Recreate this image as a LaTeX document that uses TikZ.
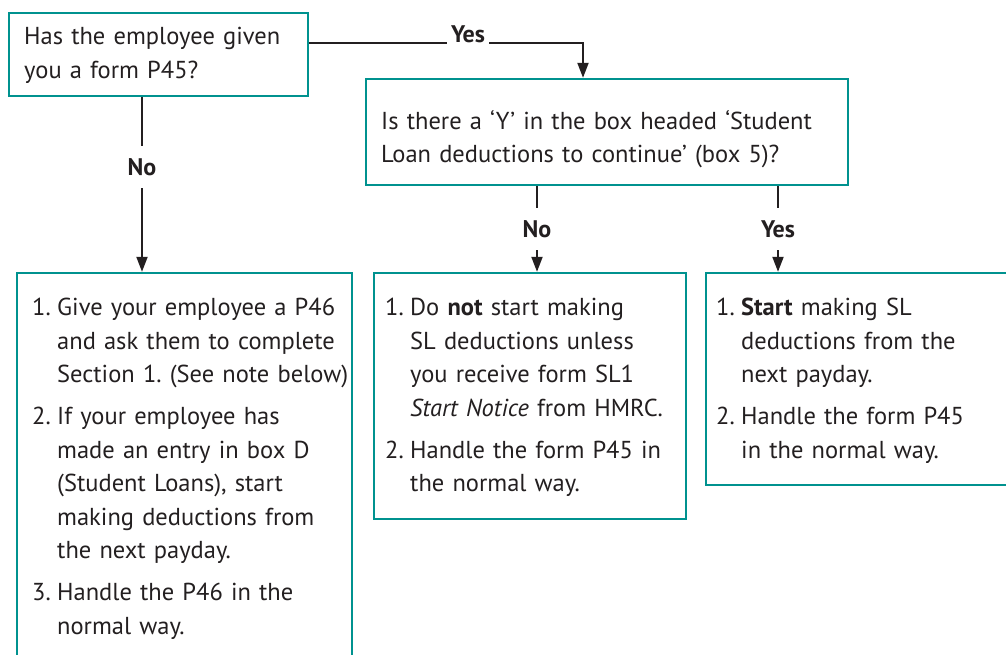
\documentclass[tikz,border=0pt]{standalone}
\usepackage{fontspec}
\setmainfont{PT Sans}
\usetikzlibrary{arrows.meta}

\definecolor{boxteal}{RGB}{0,146,143}
\definecolor{inkgray}{RGB}{35,31,32}

\newlength{\numw}
\setlength{\numw}{25pt}
\newcommand{\stepline}[2]{\begingroup\let\\\newline
 \hangindent=\numw\hangafter=1\noindent\makebox[\numw][l]{#1}#2\par\endgroup\vspace{8.5pt}}
\frenchspacing

\begin{document}
\begin{tikzpicture}[x=1pt,y=-1pt]
\useasboundingbox (0,0) rectangle (1006,654);

\coordinate (Q1_c) at (158.5, 54.5);
\coordinate (Q2_c) at (607, 132);
\coordinate (A1_c) at (184.5, 517);
\coordinate (A2_c) at (530, 396);
\coordinate (A3_c) at (873, 379);

\tikzset{BoxStyle/.style = {
 shape = rectangle,
 draw = boxteal,
 line width = 2.4pt,
 inner sep = 0pt} }

\node[BoxStyle, minimum width=299pt, minimum height=83pt] (Q1) at (Q1_c) {};
\node[BoxStyle, minimum width=482pt, minimum height=106pt] (Q2) at (Q2_c) {};
\node[BoxStyle, minimum width=335pt, minimum height=488pt] (A1) at (A1_c) {};
\node[BoxStyle, minimum width=312pt, minimum height=246pt] (A2) at (A2_c) {};
\node[BoxStyle, minimum width=334pt, minimum height=212pt] (A3) at (A3_c) {};


\tikzset{TextStyle/.style = {
 anchor = north west,
 inner sep = 0pt,
 text = inkgray,
 font = \fontsize{24.5}{33.5}\selectfont} }

\node[TextStyle, text width=285pt] (Q1_t) at (24, 27) {Has the employee given\\you a form P45?};
\node[TextStyle, text width=470pt] (Q2_t) at (381, 110) {Is there a ‘Y’ in the box headed ‘Student\\Loan deductions to continue’ (box 5)?};
\node[TextStyle, text width=325pt] (A1_t) at (32, 298) {%
\stepline{1.}{Give your employee a P46\\and ask them to complete\\Section 1. (See note below)}%
\stepline{2.}{If your employee has\\made an entry in box D\\(Student Loans), start\\making deductions from\\the next payday.}%
\stepline{3.}{Handle the P46 in the\\normal way.}};
\node[TextStyle, text width=300pt] (A2_t) at (385, 298) {%
\stepline{1.}{Do \textbf{not} start making\\SL deductions unless\\you receive form SL1\\\textit{Start Notice} from HMRC.}%
\stepline{2.}{Handle the form P45 in\\the normal way.}};
\node[TextStyle, text width=300pt] (A3_t) at (716, 298) {%
\stepline{1.}{\textbf{Start} making SL\\deductions from the\\next payday.}%
\stepline{2.}{Handle the form P45\\in the normal way.}};


\tikzset{EdgeStyle/.style = {line width=2pt, draw=inkgray, -{Triangle[length=15pt, width=11pt]}} }
\tikzset{LabelStyle/.style = {fill=white, text=inkgray, inner xsep=4pt, inner ysep=12pt,
 font=\fontsize{24}{28}\selectfont\bfseries} }

\coordinate (Yes_turn) at (583, 42.7);
\coordinate (No_x) at (142, 0);
\coordinate (No2_x) at (537, 0);
\coordinate (Yes2_x) at (778, 0);

\draw[EdgeStyle] (Q1.east |- Yes_turn) -- node[LabelStyle, pos=0.58, anchor=base, inner ysep=2pt] (Yes1) {Yes} (Yes_turn) -- (Yes_turn |- Q2.north);
\draw[EdgeStyle] (No_x |- Q1.south) -- node[LabelStyle, pos=0.40] (No1) {No} (No_x |- A1.north);
\draw[EdgeStyle] (No2_x |- Q2.south) -- node[LabelStyle, pos=0.50] (No2) {No} (No2_x |- A2.north);
\draw[EdgeStyle] (Yes2_x |- Q2.south) -- node[LabelStyle, pos=0.50] (Yes2) {Yes} (Yes2_x |- A3.north);

\end{tikzpicture}
\end{document}
